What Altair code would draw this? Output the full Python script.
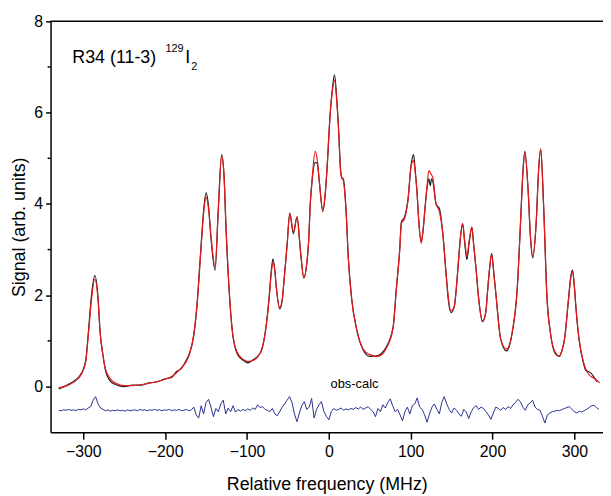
import altair as alt
import pandas as pd

# ---------------- data ----------------
calc_f = [-330, -320, -310, -302, -297, -294, -290, -286, -282, -279.5, -276, -273, -267, -260, -250,
          -240, -230, -220, -210, -200, -192, -186, -181, -175, -170, -165, -161, -157, -153, -150,
          -147, -144, -139, -135, -131, -128, -125.8, -121.8, -117.7, -112, -105, -99, -93, -87, -82,
          -79, -76, -73, -70.5, -68.3, -66, -64.3, -60, -57, -55, -51, -47.7, -43.3, -38.8, -34.8,
          -30.5, -27, -24.6, -22.7, -20.6, -16.6, -14, -11.7, -7.3, -4.5, -2.4, 1.6, 4.5, 6.9, 9.5,
          11.8, 14.6, 17.8, 21, 23.9, 27.9, 34, 42, 50, 60, 70, 78.5, 82.5, 86.6, 88.6,
          92.6, 96.7, 100.7, 103.6, 105.5, 107.6, 110, 112.9, 115, 117.7, 120, 122.2, 125, 127, 131,
          135.1, 139.2, 143.2, 146, 149.3, 153.3, 156, 158.6, 161, 163.5, 166, 168.7, 171.5, 174.8, 177,
          179.6, 183.6, 187.7, 191.7, 194, 196.5, 199, 201.5, 204, 210, 217, 224, 230.2, 234.2, 237.1,
          239.5, 243.5, 246.4, 249.2, 253.3, 256.5, 258.9, 262.5, 266.6, 270.6, 276.7, 281.6, 285, 288, 292.9,
          295.5, 297.8, 300, 301.8, 305.8, 311, 317, 325, 331]
calc_v = [-0.03, 0.02, 0.12, 0.28, 0.55, 1.1, 1.9, 2.35, 1.9, 1.19, 0.7, 0.39, 0.17, 0.07, 0.02,
          0.02, 0.04, 0.07, 0.11, 0.16, 0.22, 0.3, 0.4, 0.52, 0.72, 1.15, 1.8, 2.8, 3.8, 4.15,
          3.9, 3.3, 2.63, 3.9, 5.05, 4.6, 3.57, 2.13, 1.19, 0.75, 0.6, 0.55, 0.57, 0.65, 0.82,
          1.04, 1.4, 1.91, 2.45, 2.72, 2.55, 2.2, 1.73, 1.9, 2.27, 3.1, 3.79, 3.39, 3.72, 2.99,
          2.38, 2.7, 3.21, 4.0, 4.5, 5.15, 4.95, 4.51, 3.83, 4.2, 4.73, 5.96, 6.5, 6.72, 6.3,
          5.67, 4.66, 4.5, 3.86, 2.78, 1.91, 1.26, 0.82, 0.7, 0.66, 0.83, 1.28, 2.13, 3.0, 3.57,
          3.68, 4.08, 4.85, 4.95, 4.7, 4.3, 3.6, 3.14, 3.4, 3.93, 4.4, 4.73, 4.65, 4.58, 4.0,
          3.83, 3.36, 2.49, 1.95, 1.66, 1.76, 2.2, 2.78, 3.3, 3.57, 3.2, 2.85, 3.2, 3.5, 3.1,
          2.63, 1.84, 1.44, 1.62, 2.1, 2.6, 2.89, 2.5, 2.05, 1.04, 0.82, 1.19, 2.13, 3.57, 4.66,
          5.13, 4.3, 3.28, 2.86, 3.57, 4.8, 5.2, 3.93, 1.91, 1.19, 0.75, 0.67, 0.8, 1.04, 1.91,
          2.35, 2.52, 2.2, 1.76, 1.04, 0.54, 0.28, 0.17, 0.08]

obs_f = [-330, -320, -310, -302, -297, -294, -290, -286, -282, -279.5, -276, -273, -267, -260, -250,
         -240, -230, -220, -210, -200, -192, -186, -181, -175, -170, -165, -161, -157, -153, -150,
         -147, -144, -139, -135, -131, -128, -125.8, -121.8, -117.7, -112, -105, -99, -93, -87, -82,
         -79, -76, -73, -70.5, -68.3, -66, -64.3, -60, -57, -55, -51, -47.7, -43.3, -38.8, -34.8,
         -30.5, -27, -24.6, -22.7, -20.6, -16.6, -14, -11.7, -7.3, -4.5, -2.4, 1.6, 4.5, 6.9, 9.5,
         11.8, 14.6, 16, 17.8, 21, 23.9, 27.9, 34, 42, 50, 60, 64, 70, 78.5, 82.5, 86.6, 88.6,
         92.6, 96.7, 100.7, 103.6, 105.5, 107.6, 110, 112.9, 115, 117.7, 120, 122.2, 124, 125.5, 127, 131,
         133, 135.1, 139.2, 143.2, 146, 149.3, 153.3, 156, 158.6, 161, 163.5, 166, 168.7, 171.5, 174.8, 177,
         179.6, 183.6, 187.7, 191.7, 194, 196.5, 199, 201.5, 204, 210, 217, 224, 230.2, 234.2, 237.1,
         239.5, 243.5, 246.4, 249.2, 253.3, 256.5, 258.9, 262.5, 266.6, 270.6, 276.7, 281.6, 285, 288, 292.9,
         295.5, 297.8, 300, 301.8, 305.8, 311, 314, 317, 320, 325, 328]
obs_v = [-0.05, 0.03, 0.14, 0.3, 0.58, 1.15, 2.0, 2.43, 1.95, 1.2, 0.68, 0.36, 0.12, 0.04, 0.0,
         0.03, 0.03, 0.08, 0.1, 0.17, 0.2, 0.33, 0.38, 0.55, 0.74, 1.12, 1.8, 2.85, 3.85, 4.25,
         3.95, 3.25, 2.55, 3.9, 5.08, 4.6, 3.55, 2.1, 1.18, 0.72, 0.58, 0.52, 0.58, 0.66, 0.8,
         1.04, 1.42, 1.95, 2.5, 2.8, 2.55, 2.2, 1.7, 1.88, 2.27, 3.1, 3.8, 3.35, 3.72, 3.0,
         2.38, 2.68, 3.2, 4.0, 4.48, 4.91, 4.88, 4.5, 3.85, 4.2, 4.7, 5.96, 6.55, 6.83, 6.35,
         5.67, 4.7, 4.56, 4.55, 3.88, 2.8, 1.93, 1.25, 0.8, 0.66, 0.68, 0.72, 0.86, 1.3, 2.15, 3.0, 3.6,
         3.72, 4.1, 4.88, 5.08, 4.75, 4.3, 3.6, 3.16, 3.4, 3.95, 4.35, 4.55, 4.4, 4.55, 4.5, 4.0,
         3.95, 3.9, 3.36, 2.49, 1.9, 1.62, 1.75, 2.2, 2.8, 3.3, 3.57, 3.15, 2.78, 3.15, 3.48, 3.1,
         2.63, 1.84, 1.42, 1.62, 2.1, 2.6, 2.92, 2.5, 2.05, 1.04, 0.78, 1.17, 2.15, 3.57, 4.7,
         5.15, 4.3, 3.25, 2.82, 3.57, 4.8, 5.2, 3.93, 1.95, 1.2, 0.72, 0.66, 0.8, 1.04, 1.93,
         2.4, 2.55, 2.2, 1.76, 1.02, 0.52, 0.35, 0.33, 0.3, 0.18, 0.1]

resid_f = list(range(-330, 331, 3))
resid_v = [-0.52, -0.53, -0.51, -0.52, -0.50, -0.52, -0.51, -0.53, -0.50, -0.51,
           -0.49, -0.51, -0.47, -0.44, -0.30, -0.22, -0.38, -0.47, -0.50, -0.53,
           -0.51, -0.54, -0.52, -0.53, -0.51, -0.53, -0.52, -0.54, -0.51, -0.53,
           -0.52, -0.51, -0.53, -0.50, -0.52, -0.51, -0.53, -0.51, -0.52, -0.50,
           -0.52, -0.51, -0.53, -0.51, -0.52, -0.50, -0.53, -0.51, -0.52, -0.50,
           -0.53, -0.52, -0.50, -0.53, -0.51, -0.45, -0.62, -0.69, -0.42, -0.60,
           -0.35, -0.28, -0.45, -0.66, -0.48, -0.55, -0.38, -0.30, -0.60, -0.47,
           -0.55, -0.42, -0.56, -0.50, -0.54, -0.50, -0.53, -0.49, -0.52, -0.47,
           -0.50, -0.40, -0.46, -0.44, -0.50, -0.52, -0.55, -0.48, -0.60, -0.64,
           -0.55, -0.45, -0.38, -0.30, -0.22, -0.35, -0.60, -0.77, -0.58, -0.42,
           -0.33, -0.50, -0.45, -0.26, -0.69, -0.50, -0.40, -0.33, -0.55, -0.65,
           -0.73, -0.55, -0.48, -0.52, -0.50, -0.47, -0.52, -0.49, -0.51, -0.48,
           -0.50, -0.46, -0.49, -0.45, -0.50, -0.47, -0.44, -0.50, -0.55, -0.66,
           -0.48, -0.55, -0.40, -0.47, -0.35, -0.27, -0.42, -0.55, -0.50, -0.62,
           -0.75, -0.55, -0.45, -0.60, -0.42, -0.38, -0.25, -0.45, -0.50, -0.62,
           -0.78, -0.60, -0.45, -0.38, -0.50, -0.60, -0.35, -0.22, -0.38, -0.50,
           -0.58, -0.47, -0.52, -0.60, -0.65, -0.50, -0.56, -0.70, -0.55, -0.46,
           -0.42, -0.50, -0.45, -0.48, -0.55, -0.62, -0.72, -0.58, -0.45, -0.48,
           -0.52, -0.46, -0.50, -0.44, -0.48, -0.40, -0.35, -0.28, -0.33, -0.45,
           -0.52, -0.40, -0.36, -0.30, -0.45, -0.50, -0.52, -0.65, -0.80, -0.62,
           -0.58, -0.55, -0.54, -0.52, -0.53, -0.50, -0.48, -0.46, -0.44, -0.50,
           -0.55, -0.58, -0.54, -0.56, -0.53, -0.50, -0.46, -0.42, -0.41, -0.46,
           -0.50]

x_ticks = [-300, -200, -100, 0, 100, 200, 300]
y_ticks = [0, 2, 4, 6, 8]
y_minor = [1, 3, 5, 7]
x_title = "Relative frequency (MHz)"
y_title = "Signal (arb. units)"
label_parts = ["R34 (11-3)", "129", "I", "2"]
resid_label = ["obs-calc"]

FONT = "Liberation Sans"
W, H = 558, 415

calc_df = pd.DataFrame({"f": calc_f, "v": calc_v})
obs_df = pd.DataFrame({"f": obs_f, "v": obs_v})
res_df = pd.DataFrame({"f": resid_f, "v": resid_v[:len(resid_f)]})

xs = alt.Scale(domain=[-340, 335], nice=False, zero=False)
ys = alt.Scale(domain=[-1, 8], nice=False, zero=False)

x_axis = alt.Axis(values=x_ticks, title=x_title, tickSize=7, labelPadding=5,
                  titlePadding=16, labelFontSize=16, titleFontSize=18, grid=False)
y_axis = alt.Axis(values=y_ticks, title=y_title, tickSize=5, labelPadding=3,
                  titlePadding=5, labelFontSize=16, titleFontSize=18, grid=False)

X = alt.X("f:Q", scale=xs, axis=x_axis)
Y = alt.Y("v:Q", scale=ys, axis=y_axis)

obs_layer = alt.Chart(obs_df).mark_line(color="#1c1c1c", strokeWidth=1.2, interpolate="monotone").encode(x=X, y=Y)
calc_layer = alt.Chart(calc_df).mark_line(color="#e8191c", strokeWidth=1.2, interpolate="monotone").encode(x=X, y=Y)
res_layer = alt.Chart(res_df).mark_line(color="#28338f", strokeWidth=1.0).encode(x=X, y=Y)
minor_layer = alt.Chart(pd.DataFrame({"v": y_minor})).mark_rule(color="black", strokeWidth=1.5).encode(
    y=Y, x=alt.value(-3), x2=alt.value(0),
)
top_frame = alt.Chart(pd.DataFrame({"a": [0]})).mark_rule(color="black", strokeWidth=1.5).encode(
    x=alt.value(0), x2=alt.value(W), y=alt.value(0),
)

def txt(s, x, y, size, align="left"):
    return alt.Chart(pd.DataFrame({"t": [s]})).mark_text(
        font=FONT, fontSize=size, color="black", align=align, baseline="alphabetic"
    ).encode(text="t:N", x=alt.value(x), y=alt.value(y))

lab1 = txt(label_parts[0], 22, 42, 18)
lab2 = txt(label_parts[1], 116, 31, 11)
lab3 = txt(label_parts[2], 136, 42, 18)
lab4 = txt(label_parts[3], 142, 49, 11)
lab5 = txt(resid_label[0], 307, 370, 13, align="center")

chart = alt.layer(obs_layer, calc_layer, res_layer, minor_layer, top_frame,
                  lab1, lab2, lab3, lab4, lab5).properties(
    width=W, height=H,
    padding={"left": 43, "top": 11, "right": 0, "bottom": 66},
    autosize=alt.AutoSizeParams(type="none"),
).configure_view(stroke=None).configure_axis(
    labelFont=FONT, titleFont=FONT, labelColor="black", titleColor="black",
    domainColor="black", tickColor="black", domainWidth=1.5, tickWidth=1.5,
    titleFontWeight="normal",
)

chart.save("out.html", embed_options={"renderer": "svg", "actions": False})
